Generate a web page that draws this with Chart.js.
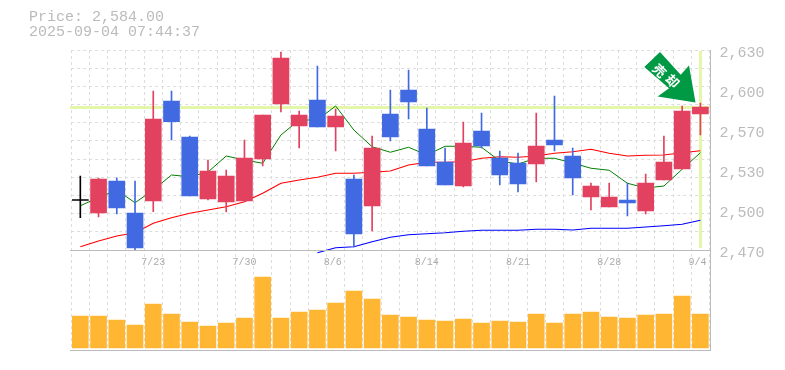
<!DOCTYPE html>
<html>
<head>
<meta charset="utf-8">
<script src="https://cdn.jsdelivr.net/npm/chart.js@4/dist/chart.umd.min.js"></script>
<style>
  body { margin: 0; background: #fff; }
  #wrap { position: relative; width: 785px; height: 370px; overflow: hidden; }
  #head { position: absolute; left: 29px; top: 10px; font: 15px/15px "Liberation Mono", monospace; color: #bbb; white-space: pre; }
  canvas { position: absolute; left: 0; top: 0; }
</style>
</head>
<body>
<div id="wrap">
  <canvas id="myChart" width="785" height="370"></canvas>
  <div id="head">Price: 2,584.00
2025-09-04 07:44:37</div>
</div>
<script>
const dates = ['7/16','7/17','7/18','7/22','7/23','7/24','7/25','7/28','7/29','7/30',
  '7/31','8/1','8/4','8/5','8/6','8/7','8/8','8/12','8/13','8/14',
  '8/15','8/18','8/19','8/20','8/21','8/22','8/25','8/26','8/27','8/28',
  '8/29','9/1','9/2','9/3','9/4'];
const tickDates = ['7/23','7/30','8/6','8/14','8/21','8/28','9/4'];

const opens = [2510,2499.6,2525.2,2499.6,2509.2,2589.2,2560.4,2510.8,2508.4,2509.2,
  2542.8,2586.8,2569.2,2590,2568.4,2526.8,2505.2,2578.8,2598,2566.8,
  2540.4,2521.2,2565.2,2543.6,2539.6,2538.8,2558,2545.2,2512.4,2504.4,
  2510,2501.2,2526,2534.8,2578.8];
const closes = [2510,2526.8,2503.6,2471.6,2574.8,2572.6,2513.2,2533.2,2529.2,2543.6,
  2578,2623.6,2578,2568.4,2577.2,2482.8,2551.6,2560.4,2588.4,2537.2,
  2522,2555.6,2553.2,2530,2522.8,2553.2,2554,2527.6,2521.2,2512.4,
  2507.6,2523.6,2540.4,2581.2,2584.4];
const highs = [2529.2,2527.6,2527.8,2525.2,2597.2,2597.2,2561.2,2542,2534,2558,
  2578,2628.4,2581.2,2617.2,2582.8,2530,2561.2,2598,2614,2583.6,
  2551.6,2572.4,2579.6,2549.2,2547.6,2579.6,2593.2,2551.6,2523.6,2523.6,
  2523.6,2530.8,2561.2,2585.2,2587.6];
const lows = [2495.8,2496.4,2498.8,2470,2500.6,2558,2513.2,2510,2500.4,2508.6,
  2537.2,2580.4,2551.6,2568.4,2549.2,2472.4,2485.2,2557.2,2574.8,2537.2,
  2522,2520.4,2551.6,2522,2516.4,2524.4,2549.2,2514,2502,2504.4,
  2497.2,2498.8,2526,2534.8,2562];

const maShort = [2505.4,2512,2518,2507.8,2518,2530,2528.6,2532.4,2545.2,2542,
  2539.4,2562,2574,2574,2585.2,2566,2552.6,2548.2,2552.2,2546,
  2553,2553,2552.2,2541.2,2538.8,2543.4,2543.4,2539.6,2535.4,2533.8,
  2523.4,2519.6,2521.2,2534.6,2547.8];
const maMid = [2472.6,2477.2,2481.2,2483.8,2491.4,2495.8,2499.4,2502,2504.6,2508.6,
  2515.4,2523.4,2526,2528.2,2531.4,2531.4,2532.2,2533.2,2538,2540.2,
  2540.2,2540.6,2543.4,2544.6,2544.2,2545.2,2547.4,2548.6,2550.6,2547.4,
  2545.2,2545.8,2546,2547.8,2549.4];
const maLong = [null,null,null,null,null,null,null,null,null,null,null,null,null,
  2467.8,2471.8,2472.6,2476.6,2480.2,2482.2,2483,2483.8,2485,2485.8,2485.8,2485.8,
  2486.6,2486.6,2486,2487.4,2487.4,2487.4,2488.4,2489.4,2490.6,2493.8];

const volumes = [32,32,28,23,44,34,26,22,25,30,71,30,36,38,45,57,49,33,
  31,28,27,29,25,27,26,34,25,34,36,31,30,33,34,52,34];

const lastPrice = 2584;
const lastDate = '9/4';
const priceMin = 2470;
const priceMax = 2630;
const labelTicks = [2630,2598,2566,2534,2502,2470];
const labelTexts = ['2,630','2,600','2,570','2,530','2,500','2,470'];
const gridCount = 11;

const RED = '#E2415F';
const BLUE = '#4169E1';
const isLabel = v => labelTicks.includes(v);

// crosshair band of the last price, under the candles
const lastBand = {
  id: 'lastBand',
  beforeDatasetsDraw(chart) {
    const { ctx, scales, chartArea } = chart;
    const y = scales.y.getPixelForValue(lastPrice);
    const x = scales.x.getPixelForValue(dates.indexOf(lastDate));
    ctx.save();
    ctx.fillStyle = '#E4F6A8';
    ctx.fillRect(70, Math.round(y) - 2, 640, 3);
    ctx.fillRect(Math.round(x) - 1, chartArea.top + 1, 3, scales.y.bottom - chartArea.top - 3);
    ctx.restore();
  }
};

const frame = {
  id: 'frame',
  afterDraw(chart) {
    const { ctx, scales, chartArea } = chart;
    ctx.save();
    ctx.strokeStyle = '#BBB';
    ctx.lineWidth = 1;
    ctx.beginPath();
    [scales.y.bottom, chartArea.bottom].forEach(y => {
      ctx.moveTo(70, Math.round(y) + 0.5);
      ctx.lineTo(711, Math.round(y) + 0.5);
    });
    ctx.moveTo(710.5, chartArea.top);
    ctx.lineTo(710.5, chartArea.bottom);
    ctx.stroke();

    // stop loss arrow
    ctx.fillStyle = '#009944';
    ctx.beginPath();
    ctx.moveTo(660, 52);
    ctx.lineTo(680.7, 74.7);
    ctx.lineTo(689, 65.5);
    ctx.lineTo(695.5, 102.5);
    ctx.lineTo(657.7, 96.5);
    ctx.lineTo(669, 88.3);
    ctx.lineTo(644.3, 67);
    ctx.closePath();
    ctx.fill();
    ctx.fillStyle = '#fff';
    ctx.font = 'bold 13px "Noto Sans CJK JP"';
    ctx.textAlign = 'center';
    ctx.textBaseline = 'middle';
    [['売', 659.5, 70.5], ['却', 672.5, 81]].forEach(([t, x, y]) => {
      ctx.save();
      ctx.translate(x, y);
      ctx.rotate(Math.PI / 4);
      ctx.fillText(t, 0, 0);
      ctx.restore();
    });
    ctx.restore();
  }
};

function candleColor(c) {
  const i = c.dataIndex;
  if (opens[i] === closes[i]) return '#000';
  return closes[i] > opens[i] ? RED : BLUE;
}

function lineSet(data, color, width) {
  return {
    type: 'line', data: data, borderColor: color, borderWidth: width,
    pointRadius: 0, tension: 0, yAxisID: 'y', order: 3, spanGaps: false, clip: 4
  };
}

const ctx = document.getElementById('myChart').getContext('2d');
new Chart(ctx, {
  type: 'bar',
  data: {
    labels: dates,
    datasets: [
      lineSet(maShort, '#008000', 1),
      lineSet(maMid, '#FF0000', 1.2),
      lineSet(maLong, '#0000FF', 1.2),
      {
        data: lows.map((v, i) => [v, highs[i]]),
        backgroundColor: candleColor, barThickness: 1, grouped: false,
        yAxisID: 'y', order: 2
      },
      {
        data: opens.map((v, i) => opens[i] === closes[i] ? [v - 0.4, v + 0.4] : [v, closes[i]]),
        backgroundColor: candleColor, barThickness: 16, grouped: false,
        yAxisID: 'y', order: 1
      },
      {
        data: volumes,
        backgroundColor: '#FFB733', barThickness: 16, grouped: false,
        yAxisID: 'yVol', order: 1
      }
    ]
  },
  options: {
    responsive: false,
    animation: false,
    layout: { padding: { left: 71.2, top: 50, bottom: 20, right: 0 } },
    plugins: { legend: { display: false }, tooltip: { enabled: false } },
    scales: {
      x: {
        position: { y: priceMin },
        grid: { color: '#DDD', drawTicks: false, offset: true },
        border: { display: false, dash: [3, 3] },
        ticks: {
          autoSkip: false, maxRotation: 0, padding: 6, color: '#AAA',
          font: { family: 'Liberation Mono', size: 10 },
          callback(v) {
            const d = dates[v];
            return tickDates.includes(d) ? d.padEnd(4) : '';
          }
        }
      },
      y: {
        position: 'right', stack: 'panes', stackWeight: 2,
        min: priceMin, max: priceMax,
        afterFit(scale) { scale.width = 75.5; },
        afterBuildTicks(scale) {
          const grid = [];
          for (let i = 0; i <= gridCount; i++) {
            grid.push(priceMin + (priceMax - priceMin) * i / gridCount);
          }
          const all = grid.slice(1, -1).concat(labelTicks).sort((a, b) => b - a);
          scale.ticks = all.map(v => ({ value: v }));
        },
        grid: {
          drawTicks: false,
          color: c => (c.tick && isLabel(c.tick.value) && c.tick.value !== priceMax) ? 'transparent' : '#DDD'
        },
        border: { display: false, dash: [3, 3] },
        ticks: {
          padding: 10, color: '#BBB', labelOffset: 3, autoSkip: false, crossAlign: 'near',
          font: { family: 'Liberation Mono', size: 15 },
          callback(v) {
            const i = labelTicks.indexOf(v);
            return i < 0 ? '' : labelTexts[i];
          }
        }
      },
      yVol: {
        position: 'right', stack: 'panes', stackWeight: 1,
        min: -2, max: 98,
        afterFit(scale) { scale.width = 75.5; },
        grid: { display: false },
        border: { display: false },
        ticks: { display: false }
      }
    }
  },
  plugins: [lastBand, frame]
});
</script>
</body>
</html>
